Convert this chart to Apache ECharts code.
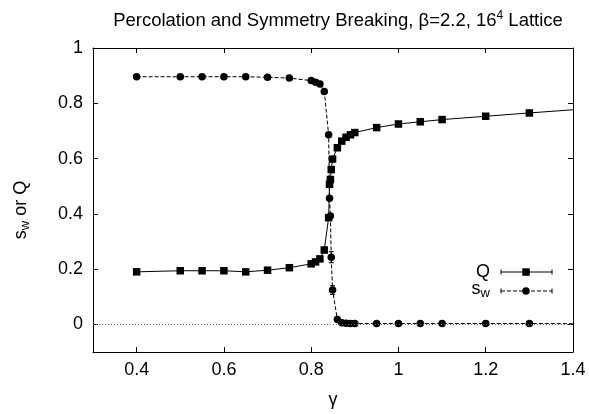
<!DOCTYPE html>
<html>
<head>
<meta charset="utf-8">
<script src="https://cdn.jsdelivr.net/npm/echarts@6/dist/echarts.min.js"></script>
<style>
  html, body { margin: 0; padding: 0; background: #fff; }
  #chart { width: 589px; height: 414px; }
</style>
</head>
<body>
<div id="chart"></div>
<script>
// gamma values (shared by both curves), last one lies past the frame and is clipped
var gamma = [0.4, 0.5, 0.55, 0.6, 0.65, 0.7, 0.75, 0.8, 0.81, 0.82, 0.83, 0.84, 0.842, 0.844,
             0.846, 0.849, 0.86, 0.87, 0.88, 0.89, 0.9, 0.95, 1.0, 1.05, 1.1, 1.2, 1.3, 1.5];
var qVals = [0.19, 0.194, 0.194, 0.194, 0.19, 0.196, 0.205, 0.219, 0.226, 0.237, 0.269, 0.386, 0.507, 0.524,
             0.56, 0.598, 0.639, 0.663, 0.677, 0.686, 0.694, 0.712, 0.725, 0.733, 0.741, 0.753, 0.765, 0.788];
var swVals = [0.896, 0.896, 0.896, 0.896, 0.896, 0.894, 0.891, 0.882, 0.876, 0.87, 0.843, 0.686, 0.456, 0.392,
              0.243, 0.124, 0.018, 0.006, 0.004, 0.003, 0.003, 0.003, 0.003, 0.003, 0.003, 0.003, 0.003, 0.002];
// visible error bars on s_w (zero elsewhere)
var swErr = [0, 0, 0, 0, 0, 0, 0, 0, 0, 0, 0, 0, 0, 0,
             0.02, 0.016, 0, 0, 0, 0, 0, 0, 0, 0, 0, 0, 0, 0];

var xTicks = [0.4, 0.6, 0.8, 1.0, 1.2, 1.4];
var xTickLabels = ['0.4', '0.6', '0.8', '1', '1.2', '1.4'];
var yTicks = [0, 0.2, 0.4, 0.6, 0.8, 1.0];
var yTickLabels = ['0', '0.2', '0.4', '0.6', '0.8', '1'];

var FONT = 'Liberation Sans';
var FS = 18;

function pairs(xs, ys) {
    return xs.map(function (x, i) { return [x, ys[i]]; });
}
function labelFor(ticks, labels) {
    return function (v) {
        for (var i = 0; i < ticks.length; i++) {
            if (Math.abs(ticks[i] - v) < 1e-6) return labels[i];
        }
        return '';
    };
}

var errData = [];
gamma.forEach(function (g, i) {
    if (swErr[i] > 0) errData.push([g, swVals[i] - swErr[i], swVals[i] + swErr[i]]);
});

var axisBase = {
    type: 'value',
    axisLine: { show: true, onZero: false, lineStyle: { color: '#000', width: 1 } },
    axisTick: { show: true, inside: true, length: 5, lineStyle: { color: '#000' } },
    splitLine: { show: false },
    axisLabel: { show: false }
};

function xAxisDef(pos, showLabel) {
    return Object.assign({}, axisBase, {
        position: pos, min: 0.3, max: 1.4,
        axisTick: Object.assign({}, axisBase.axisTick, { customValues: xTicks }),
        axisLabel: {
            show: showLabel, customValues: xTicks, formatter: labelFor(xTicks, xTickLabels),
            color: '#000', fontFamily: FONT, fontSize: FS, margin: 9
        }
    });
}
function yAxisDef(pos, showLabel) {
    return Object.assign({}, axisBase, {
        position: pos, min: -0.1, max: 1,
        axisTick: Object.assign({}, axisBase.axisTick, { customValues: yTicks }),
        axisLabel: {
            show: showLabel, customValues: yTicks, formatter: labelFor(yTicks, yTickLabels),
            color: '#000', fontFamily: FONT, fontSize: FS, margin: 10
        }
    });
}

var xBottom = xAxisDef('bottom', true);
xBottom.name = 'γ';
xBottom.nameLocation = 'middle';
xBottom.nameGap = 39;
xBottom.nameTextStyle = { color: '#000', fontFamily: FONT, fontSize: FS };

var chart = echarts.init(document.getElementById('chart'));
chart.setOption({
    animation: false,
    backgroundColor: '#fff',
    title: {
        text: 'Percolation and Symmetry Breaking, β=2.2, 16{sup|4} Lattice',
        left: 333, textAlign: 'center', top: 5,
        textStyle: {
            color: '#000', fontFamily: FONT, fontSize: 18.5, fontWeight: 'normal',
            rich: { sup: { fontSize: 12, fontFamily: FONT, color: '#000', padding: [0, 0, 9, 0] } }
        }
    },
    grid: { left: 93, right: 16, top: 48, bottom: 53 },
    xAxis: [xBottom, xAxisDef('top', false)],
    yAxis: [yAxisDef('left', true), yAxisDef('right', false)],
    series: [
        {
            name: 'Q', type: 'line', data: pairs(gamma, qVals), clip: true,
            symbol: 'rect', symbolSize: 7.5,
            itemStyle: { color: '#000' },
            lineStyle: { color: '#000', width: 1 }
        },
        {
            name: 'sw', type: 'line', data: pairs(gamma, swVals), clip: true,
            symbol: 'circle', symbolSize: 7.5,
            itemStyle: { color: '#000' },
            lineStyle: { color: '#000', width: 1, type: [4, 2] },
            markLine: {
                silent: true, symbol: 'none', label: { show: false },
                lineStyle: { color: '#666', width: 1, type: [1, 2] },
                data: [{ yAxis: 0 }]
            }
        },
        {
            name: 'swErr', type: 'custom', data: errData, silent: true,
            renderItem: function (params, api) {
                var lo = api.coord([api.value(0), api.value(1)]);
                var hi = api.coord([api.value(0), api.value(2)]);
                var st = { stroke: '#000', lineWidth: 1 };
                return { type: 'group', children: [
                    { type: 'line', shape: { x1: lo[0], y1: lo[1], x2: hi[0], y2: hi[1] }, style: st },
                    { type: 'line', shape: { x1: lo[0] - 2.5, y1: lo[1], x2: lo[0] + 2.5, y2: lo[1] }, style: st },
                    { type: 'line', shape: { x1: hi[0] - 2.5, y1: hi[1], x2: hi[0] + 2.5, y2: hi[1] }, style: st }
                ] };
            }
        }
    ],
    graphic: [
        { type: 'text', x: 21, y: 210, rotation: Math.PI / 2, style: {
            text: 's{sub|w} or Q', fill: '#000', font: FS + 'px ' + FONT, align: 'center', verticalAlign: 'middle',
            rich: { sub: { fontSize: 13, fontFamily: FONT, fill: '#000', padding: [9, 0, 0, 0] } } } },
        { type: 'text', x: 490, y: 272, style: { text: 'Q', fill: '#000', font: FS + 'px ' + FONT, align: 'right', verticalAlign: 'middle' } },
        { type: 'line', shape: { x1: 501, y1: 272, x2: 552, y2: 272 }, style: { stroke: '#000', lineWidth: 1 } },
        { type: 'line', shape: { x1: 501, y1: 269.5, x2: 501, y2: 274.5 }, style: { stroke: '#000', lineWidth: 1 } },
        { type: 'line', shape: { x1: 552, y1: 269.5, x2: 552, y2: 274.5 }, style: { stroke: '#000', lineWidth: 1 } },
        { type: 'rect', shape: { x: 522.3, y: 268.3, width: 7.5, height: 7.5 }, style: { fill: '#000' } },
        { type: 'text', x: 490, y: 289, style: {
            text: 's{sub|w}', fill: '#000', font: FS + 'px ' + FONT, align: 'right', verticalAlign: 'middle',
            rich: { sub: { fontSize: 13, fontFamily: FONT, fill: '#000', padding: [9, 0, 0, 0] } } } },
        { type: 'line', shape: { x1: 501, y1: 291, x2: 552, y2: 291 }, style: { stroke: '#000', lineWidth: 1, lineDash: [4, 2] } },
        { type: 'line', shape: { x1: 501, y1: 288.5, x2: 501, y2: 293.5 }, style: { stroke: '#000', lineWidth: 1 } },
        { type: 'line', shape: { x1: 552, y1: 288.5, x2: 552, y2: 293.5 }, style: { stroke: '#000', lineWidth: 1 } },
        { type: 'circle', shape: { cx: 526, cy: 291, r: 3.75 }, style: { fill: '#000' } }
    ]
});
</script>
</body>
</html>
